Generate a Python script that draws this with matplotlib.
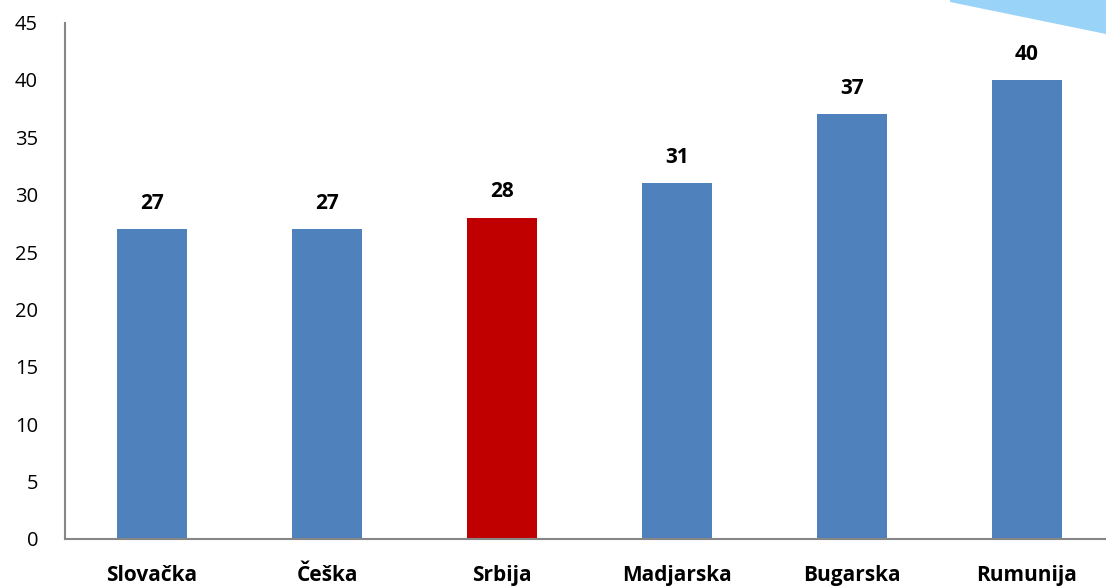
import matplotlib.pyplot as plt
from matplotlib.patches import Polygon

# data
countries = ['Slovačka', 'Češka', 'Srbija', 'Madjarska', 'Bugarska', 'Rumunija']
values = [27, 27, 28, 31, 37, 40]
colors = ['#4f81bd', '#4f81bd', '#c00000', '#4f81bd', '#4f81bd', '#4f81bd']
yticks = [0, 5, 10, 15, 20, 25, 30, 35, 40, 45]

plt.rcParams['font.family'] = ['Open Sans', 'DejaVu Sans']

W, H = 1106, 586
fig = plt.figure(figsize=(W / 100, H / 100), dpi=100)
ax = fig.add_axes([64.5 / W, (H - 539) / H, 1050 / W, (539 - 22.6) / H])

x = range(len(countries))
bars = ax.bar(x, values, width=0.4, color=colors)
for i, v in enumerate(values):
    ax.annotate(str(v), (i, v), xytext=(0, 11), textcoords='offset points',
                ha='center', va='bottom', fontsize=15, fontweight='bold')

ax.set_xlim(-0.5, len(countries) - 0.5)
ax.set_ylim(0, 45)
ax.set_yticks(yticks)
ax.set_xticks(list(x))
ax.set_xticklabels(countries, fontsize=15, fontweight='bold')
ax.tick_params(axis='y', length=0, pad=19, labelsize=14.5)
ax.tick_params(axis='x', length=0, pad=19)
for s in ['top', 'right']:
    ax.spines[s].set_visible(False)
for s in ['left', 'bottom']:
    ax.spines[s].set_color('#868686')
    ax.spines[s].set_linewidth(1.5)

# decorative corner shape
corner = Polygon([(950 / W, 1.0), (1.0, 1.0), (1.0, 1 - 34 / H), (950 / W, 1 - 2 / H)],
                 closed=True, transform=fig.transFigure, facecolor='#99d3f7',
                 edgecolor='none', zorder=0)
fig.patches.append(corner)

plt.savefig('out.png', dpi=100)
